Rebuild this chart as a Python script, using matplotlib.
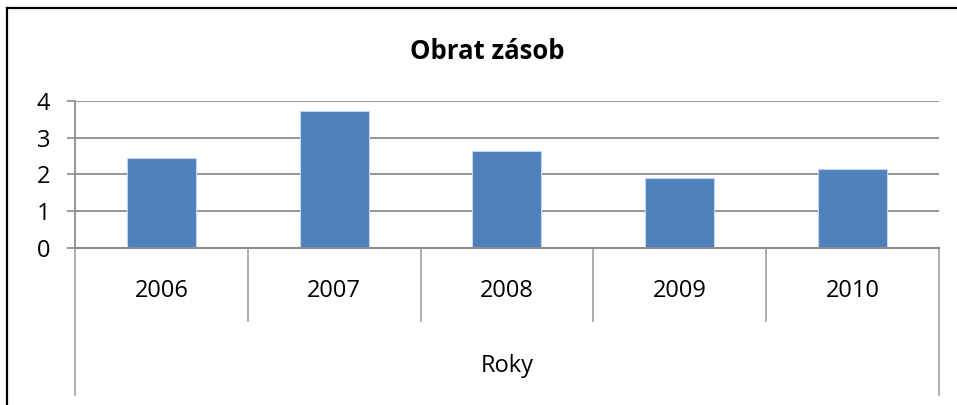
import matplotlib
matplotlib.use("Agg")
import matplotlib.pyplot as plt
import matplotlib.transforms as mtransforms
from matplotlib.lines import Line2D

plt.rcParams["font.family"] = ["Open Sans", "DejaVu Sans"]

YEARS = ["2006", "2007", "2008", "2009", "2010"]
TURNOVER = [2.44, 3.73, 2.65, 1.91, 2.14]
Y_TICKS = [0, 1, 2, 3, 4]
TITLE = "Obrat zásob"
GROUP_LABEL = "Roky"

BAR = "#4F81BD"
GRID = "#8c8c8c"
SEP = "#a0a0a0"

fig = plt.figure(figsize=(9.57, 4.05), dpi=100)
ax = fig.add_axes([0.0784, 0.3877, 0.9026, 0.3629])

xs = list(range(len(YEARS)))
ax.bar(xs, TURNOVER, width=0.4, color=BAR, edgecolor="#c5d5ea", linewidth=0.8, zorder=3)
ax.set_xlim(-0.5, len(YEARS) - 0.5)
ax.set_ylim(0, 4)
ax.set_yticks(Y_TICKS)
ax.set_yticklabels([str(t) for t in Y_TICKS], fontsize=17)
ax.tick_params(axis="y", length=6, width=1.2, color=GRID, pad=12)
ax.set_xticks([])
ax.yaxis.grid(True, color=GRID, linewidth=1.3, zorder=0)
for s in ["top", "right", "bottom"]:
    ax.spines[s].set_visible(False)
ax.spines["left"].set_color(GRID)
ax.spines["left"].set_linewidth(1.3)
ax.axhline(0, color=GRID, linewidth=1.5, zorder=4, clip_on=False)

# multi-level category axis drawn below the plot
trans = mtransforms.blended_transform_factory(ax.transData, ax.transAxes)
for b in range(1, len(YEARS)):
    ax.add_line(Line2D([b - 0.5, b - 0.5], [0, -0.5], transform=trans, color=SEP,
                       linewidth=1.2, clip_on=False))
for b in (-0.5, len(YEARS) - 0.5):
    ax.add_line(Line2D([b, b], [0, -1.0], transform=trans, color=SEP,
                       linewidth=1.2, clip_on=False))
for x, lab in zip(xs, YEARS):
    ax.text(x, -0.29, lab, transform=trans, ha="center", va="center", fontsize=17)
ax.text((len(YEARS) - 1) / 2, -0.80, GROUP_LABEL, transform=trans, ha="center",
        va="center", fontsize=17)

fig.text(0.509, 0.872, TITLE, ha="center", va="center", fontsize=18.5, fontweight="bold")

# chart frame (left and top edges visible)
fig.add_artist(Line2D([0.0078, 0.0078], [0, 0.98], transform=fig.transFigure,
                      color="black", linewidth=1.6))
fig.add_artist(Line2D([0.0078, 1.0], [0.98, 0.98], transform=fig.transFigure,
                      color="black", linewidth=1.6))

fig.savefig("out.png", dpi=100)
